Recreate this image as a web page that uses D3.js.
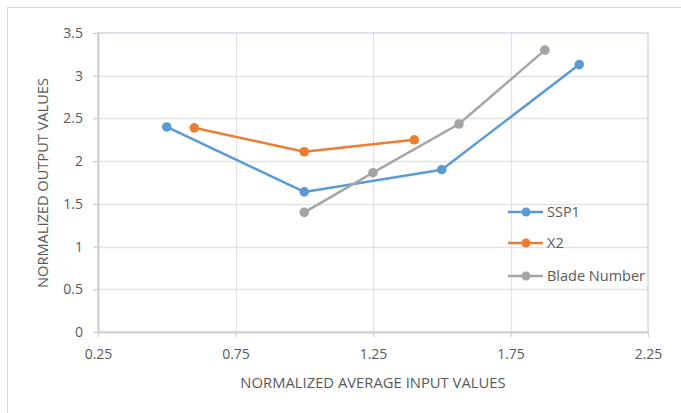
<!DOCTYPE html>
<html>
<head>
<meta charset="utf-8">
<script src="https://cdn.jsdelivr.net/npm/d3@7"></script>
<style>
  html, body { margin: 0; padding: 0; background: #ffffff; }
  svg { display: block; }
  text { font-family: "Open Sans", "Liberation Sans", sans-serif; fill: #595959; }
</style>
</head>
<body>
<svg id="chart" width="681" height="413"></svg>
<script>
// ---- data ----
const seriesNames = ["SSP1", "X2", "Blade Number"];
const ssp1X = [0.5, 1.0, 1.5, 2.0];
const ssp1Y = [2.40, 1.64, 1.90, 3.13];
const x2X = [0.6, 1.0, 1.4];
const x2Y = [2.39, 2.11, 2.25];
const bladeX = [1.0, 1.25, 1.5625, 1.875];
const bladeY = [1.40, 1.865, 2.435, 3.30];
const xTicks = [0.25, 0.75, 1.25, 1.75, 2.25];
const yTicks = [0, 0.5, 1, 1.5, 2, 2.5, 3, 3.5];
const xTitle = "NORMALIZED AVERAGE INPUT VALUES";
const yTitle = "NORMALIZED OUTPUT VALUES";
const colors = ["#5b9bd5", "#ed7d31", "#a5a5a5"];

const series = [
  { name: seriesNames[0], xs: ssp1X, ys: ssp1Y, color: colors[0] },
  { name: seriesNames[1], xs: x2X, ys: x2Y, color: colors[1] },
  { name: seriesNames[2], xs: bladeX, ys: bladeY, color: colors[2] }
];

const W = 681, H = 413;
const margin = { left: 98, top: 33, right: 33, bottom: 81 };
const svg = d3.select("#chart");

// outer chart frame
svg.append("rect").attr("x", 7.5).attr("y", 7.5).attr("width", W + 20).attr("height", H + 20)
  .attr("fill", "#ffffff").attr("stroke", "#d9d9d9").attr("stroke-width", 1);

const x = d3.scaleLinear().domain([0.25, 2.25]).range([margin.left, W - margin.right]);
const y = d3.scaleLinear().domain([0, 3.5]).range([H - margin.bottom, margin.top]);

// gridlines
const g = svg.append("g");
g.selectAll("line.hg").data(yTicks.slice(1, -1)).enter().append("line")
  .attr("x1", x(0.25)).attr("x2", x(2.25))
  .attr("y1", d => Math.round(y(d)) + 0.5).attr("y2", d => Math.round(y(d)) + 0.5)
  .attr("stroke", "#e3e3e3").attr("stroke-width", 1.3);
g.selectAll("line.vg").data(xTicks.slice(1, -1)).enter().append("line")
  .attr("y1", y(0)).attr("y2", y(3.5))
  .attr("x1", d => Math.round(x(d)) + 0.5).attr("x2", d => Math.round(x(d)) + 0.5)
  .attr("stroke", "#e3e3e3").attr("stroke-width", 1.3);

// plot border (top/right)
svg.append("rect").attr("x", x(0.25)).attr("y", y(3.5))
  .attr("width", x(2.25) - x(0.25)).attr("height", y(0) - y(3.5))
  .attr("fill", "none").attr("stroke", "#cfd6e2").attr("stroke-width", 1.5);

// axes
const xAxis = d3.axisBottom(x).tickValues(xTicks).tickFormat(d => String(d))
  .tickSizeInner(5).tickSizeOuter(0).tickPadding(12);
const yAxis = d3.axisLeft(y).tickValues(yTicks).tickFormat(d => String(d))
  .tickSizeInner(5).tickSizeOuter(0).tickPadding(10);

const gx = svg.append("g").attr("transform", `translate(0,${y(0)})`).call(xAxis);
const gy = svg.append("g").attr("transform", `translate(${x(0.25)},0)`).call(yAxis);
[gx, gy].forEach(ax => {
  ax.select(".domain").attr("stroke", "#d0d0d0").attr("stroke-width", 2);
  ax.selectAll(".tick line").attr("stroke", "#d0d0d0").attr("stroke-width", 1.3);
  ax.selectAll(".tick text").attr("fill", "#595959").style("font-size", "14px")
    .style("font-family", "'Open Sans', 'Liberation Sans', sans-serif");
});

// axis titles
svg.append("text").attr("x", 373).attr("y", 388).attr("text-anchor", "middle")
  .style("font-size", "14.8px").text(xTitle);
svg.append("text").attr("transform", `translate(48,${183}) rotate(-90)`)
  .attr("text-anchor", "middle").style("font-size", "14.6px").text(yTitle);

// series lines & markers
const line = d3.line().x(d => x(d[0])).y(d => y(d[1]));
series.forEach(s => {
  const pts = s.xs.map((v, i) => [v, s.ys[i]]);
  svg.append("path").datum(pts).attr("d", line)
    .attr("fill", "none").attr("stroke", s.color).attr("stroke-width", 2.5)
    .attr("stroke-linejoin", "round");
  svg.selectAll(null).data(pts).enter().append("circle")
    .attr("cx", d => x(d[0])).attr("cy", d => y(d[1])).attr("r", 4.8)
    .attr("fill", s.color);
});

// legend
const legY = [212, 243, 276];
series.forEach((s, i) => {
  const lg = svg.append("g");
  lg.append("line").attr("x1", 508).attr("x2", 543).attr("y1", legY[i]).attr("y2", legY[i])
    .attr("stroke", s.color).attr("stroke-width", 2.5);
  lg.append("circle").attr("cx", 526).attr("cy", legY[i]).attr("r", 4.5).attr("fill", s.color);
  lg.append("text").attr("x", 547).attr("y", legY[i]).attr("dy", "0.35em")
    .style("font-size", "14.5px").text(s.name);
});
</script>
</body>
</html>
